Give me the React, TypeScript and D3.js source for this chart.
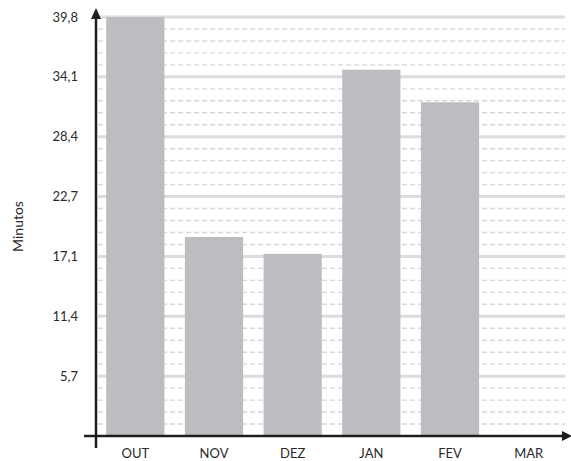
import React from "react";
import * as d3 from "d3";

const months = ["OUT", "NOV", "DEZ", "JAN", "FEV", "MAR"];
const minutes = [39.8, 18.9, 17.3, 34.8, 31.7, 0];
const yMax = 39.8;
const majorCount = 7;
const minorPerMajor = 5;

const W = 571;
const H = 461;
const left = 96;
const right = 568;
const top = 17;
const bottom = 436;

export default function App() {
  const x = d3.scaleBand<string>().domain(months).range([left, right]).paddingInner(0.26).paddingOuter(0.13);
  const y = d3.scaleLinear().domain([0, yMax]).range([bottom, top]);

  const majorTicks = d3.range(1, majorCount + 1).map((i) => (yMax * i) / majorCount);
  const minorTicks = d3
    .range(1, majorCount * minorPerMajor)
    .filter((i) => i % minorPerMajor !== 0)
    .map((i) => (yMax * i) / (majorCount * minorPerMajor));

  const fmt = (v: number) => v.toFixed(1).replace(".", ",");
  const font = "Lato, 'Open Sans', sans-serif";

  return (
    <svg width={W} height={H} style={{ position: "absolute", left: 0, top: 0 }}>
      <rect width={W} height={H} fill="#fff" />
      {/* grid */}
      {minorTicks.map((t, i) => (
        <line key={"mi" + i} x1={left + 2} x2={565} y1={y(t)} y2={y(t)} stroke="#d8d8d8" strokeWidth={1.4} strokeDasharray="5,3" />
      ))}
      {majorTicks.map((t, i) => (
        <line key={"ma" + i} x1={left + 2} x2={565} y1={y(t)} y2={y(t)} stroke="#dcdcdc" strokeWidth={3} />
      ))}
      {/* bars */}
      {months.map((m, i) =>
        minutes[i] > 0 ? (
          <rect key={m} x={x(m)} width={x.bandwidth()} y={y(minutes[i])} height={bottom - y(minutes[i])} fill="#bcbdc1" />
        ) : null
      )}
      {/* axes */}
      <line x1={84} x2={565} y1={bottom} y2={bottom} stroke="#1e1e1e" strokeWidth={2.5} />
      <path d={`M572,${bottom} L562,${bottom - 5} L562,${bottom + 5} Z`} fill="#1e1e1e" />
      <line x1={left} x2={left} y1={448} y2={16} stroke="#1e1e1e" strokeWidth={2.5} />
      <path d={`M${left},8 L${left - 5},19 L${left + 5},19 Z`} fill="#1e1e1e" />
      {/* y labels */}
      {majorTicks.map((t, i) => (
        <text key={"yl" + i} x={78} y={y(t)} dy="0.35em" textAnchor="end" fontFamily={font} fontSize={13} fill="#2a2a2a">
          {fmt(t)}
        </text>
      ))}
      {/* x labels */}
      {months.map((m) => (
        <text key={"xl" + m} x={(x(m) || 0) + x.bandwidth() / 2} y={453} dy="0.35em" textAnchor="middle" fontFamily={font} fontSize={13} fill="#2a2a2a">
          {m}
        </text>
      ))}
      <text transform={`translate(18,${(top + bottom) / 2}) rotate(-90)`} dy="0.35em" textAnchor="middle" fontFamily={font} fontSize={14} fill="#2a2a2a">
        Minutos
      </text>
    </svg>
  );
}
